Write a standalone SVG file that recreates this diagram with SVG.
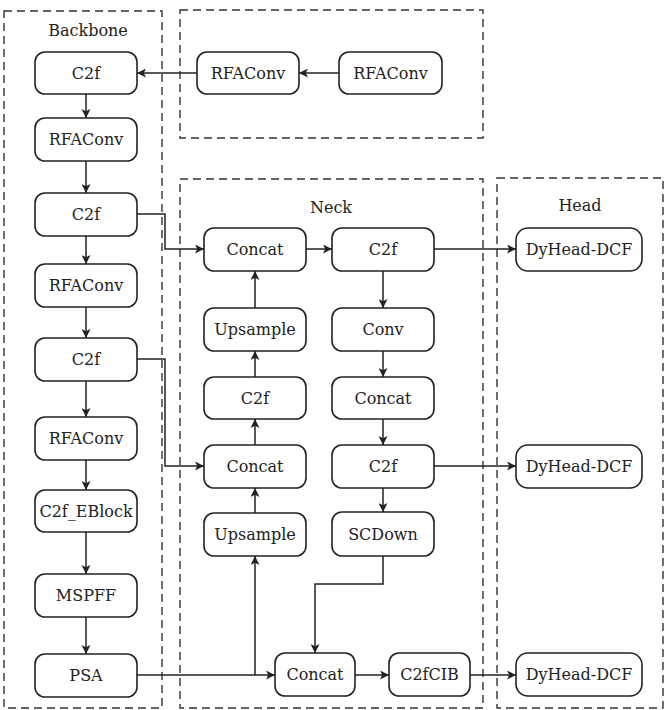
<svg xmlns="http://www.w3.org/2000/svg" width="665" height="710" viewBox="0 0 665 710">
<style>
.grp{fill:none;stroke:#333;stroke-width:1.4;stroke-dasharray:8 5}
.nd rect{fill:#fff;stroke:#222;stroke-width:1.6}
text{font-family:"DejaVu Serif",serif;font-size:16px;fill:#222;text-anchor:middle;dominant-baseline:central}
.cn path{fill:none;stroke:#222;stroke-width:1.5}
</style>
<defs>
<marker id="ar" viewBox="0 0 10 10" refX="10" refY="5" markerWidth="9" markerHeight="9" markerUnits="userSpaceOnUse" orient="auto">
<path d="M0,0 L10,5 L0,10 L2.5,5 Z" fill="#222"/>
</marker>
</defs>
<rect width="665" height="710" fill="#fff"/>
<g id="groups">
<rect class="grp" x="4" y="11" width="158" height="697"/>
<rect class="grp" x="180" y="10" width="303" height="128"/>
<rect class="grp" x="180" y="179" width="303" height="529"/>
<rect class="grp" x="497" y="178" width="166" height="530"/>
<text x="88" y="30">Backbone</text>
<text x="331" y="207">Neck</text>
<text x="580" y="205">Head</text>
</g>
<g class="cn" id="connectors">
<path d="M339,73 H299" marker-end="url(#ar)"/>
<path d="M197,73 H137" marker-end="url(#ar)"/>
<path d="M86,94 V118" marker-end="url(#ar)"/>
<path d="M86,161 V193" marker-end="url(#ar)"/>
<path d="M86,236 V264" marker-end="url(#ar)"/>
<path d="M86,307 V338" marker-end="url(#ar)"/>
<path d="M86,381 V417" marker-end="url(#ar)"/>
<path d="M86,460 V490" marker-end="url(#ar)"/>
<path d="M86,532 V574" marker-end="url(#ar)"/>
<path d="M86,617 V654" marker-end="url(#ar)"/>
<path d="M137,214 H165 V249 H204" marker-end="url(#ar)"/>
<path d="M137,359 H165 V466 H204" marker-end="url(#ar)"/>
<path d="M137,675 H275" marker-end="url(#ar)"/>
<path d="M255,675 V556" marker-end="url(#ar)"/>
<path d="M255,513 V488" marker-end="url(#ar)"/>
<path d="M255,445 V419" marker-end="url(#ar)"/>
<path d="M255,377 V351" marker-end="url(#ar)"/>
<path d="M255,308 V271" marker-end="url(#ar)"/>
<path d="M306,249 H332" marker-end="url(#ar)"/>
<path d="M383,271 V308" marker-end="url(#ar)"/>
<path d="M383,351 V377" marker-end="url(#ar)"/>
<path d="M383,419 V445" marker-end="url(#ar)"/>
<path d="M383,488 V512" marker-end="url(#ar)"/>
<path d="M383,556 V584 H315 V653" marker-end="url(#ar)"/>
<path d="M355,675 H389" marker-end="url(#ar)"/>
<path d="M434,249 H516" marker-end="url(#ar)"/>
<path d="M434,466 H516" marker-end="url(#ar)"/>
<path d="M470,675 H516" marker-end="url(#ar)"/>
</g>
<g class="nd" id="rfa_top2"><rect x="339" y="52" width="103" height="42" rx="10"/><text x="390.5" y="73">RFAConv</text></g>
<g class="nd" id="rfa_top1"><rect x="197" y="52" width="102" height="42" rx="10"/><text x="248" y="73">RFAConv</text></g>
<g class="nd" id="bb_c2f1"><rect x="35" y="52" width="102" height="42" rx="10"/><text x="86" y="73">C2f</text></g>
<g class="nd" id="bb_rfa1"><rect x="35" y="118" width="102" height="43" rx="10"/><text x="86" y="139.5">RFAConv</text></g>
<g class="nd" id="bb_c2f2"><rect x="35" y="193" width="102" height="43" rx="10"/><text x="86" y="214.5">C2f</text></g>
<g class="nd" id="bb_rfa2"><rect x="35" y="264" width="102" height="43" rx="10"/><text x="86" y="285.5">RFAConv</text></g>
<g class="nd" id="bb_c2f3"><rect x="35" y="338" width="102" height="43" rx="10"/><text x="86" y="359.5">C2f</text></g>
<g class="nd" id="bb_rfa3"><rect x="35" y="417" width="102" height="43" rx="10"/><text x="86" y="438.5">RFAConv</text></g>
<g class="nd" id="bb_eblock"><rect x="35" y="490" width="102" height="42" rx="10"/><text x="86" y="511">C2f_EBlock</text></g>
<g class="nd" id="bb_mspff"><rect x="35" y="574" width="102" height="43" rx="10"/><text x="86" y="595.5">MSPFF</text></g>
<g class="nd" id="bb_psa"><rect x="35" y="654" width="102" height="43" rx="10"/><text x="86" y="675.5">PSA</text></g>
<g class="nd" id="nk_concat1"><rect x="204" y="228" width="102" height="43" rx="10"/><text x="255" y="249.5">Concat</text></g>
<g class="nd" id="nk_up1"><rect x="204" y="308" width="102" height="43" rx="10"/><text x="255" y="329.5">Upsample</text></g>
<g class="nd" id="nk_c2fa"><rect x="204" y="377" width="102" height="42" rx="10"/><text x="255" y="398">C2f</text></g>
<g class="nd" id="nk_concat2"><rect x="204" y="445" width="102" height="43" rx="10"/><text x="255" y="466.5">Concat</text></g>
<g class="nd" id="nk_up2"><rect x="204" y="513" width="102" height="43" rx="10"/><text x="255" y="534.5">Upsample</text></g>
<g class="nd" id="nk_c2f1"><rect x="332" y="228" width="102" height="43" rx="10"/><text x="383" y="249.5">C2f</text></g>
<g class="nd" id="nk_conv"><rect x="332" y="308" width="102" height="43" rx="10"/><text x="383" y="329.5">Conv</text></g>
<g class="nd" id="nk_concat3"><rect x="332" y="377" width="102" height="42" rx="10"/><text x="383" y="398">Concat</text></g>
<g class="nd" id="nk_c2f2"><rect x="332" y="445" width="102" height="43" rx="10"/><text x="383" y="466.5">C2f</text></g>
<g class="nd" id="nk_scdown"><rect x="332" y="512" width="102" height="44" rx="10"/><text x="383" y="534">SCDown</text></g>
<g class="nd" id="nk_concat4"><rect x="275" y="653" width="80" height="43" rx="10"/><text x="315" y="674.5">Concat</text></g>
<g class="nd" id="nk_c2fcib"><rect x="389" y="653" width="81" height="43" rx="10"/><text x="429.5" y="674.5">C2fCIB</text></g>
<g class="nd" id="hd_1"><rect x="516" y="228" width="126" height="43" rx="12"/><text x="579" y="249.5">DyHead-DCF</text></g>
<g class="nd" id="hd_2"><rect x="516" y="445" width="126" height="43" rx="12"/><text x="579" y="466.5">DyHead-DCF</text></g>
<g class="nd" id="hd_3"><rect x="516" y="653" width="126" height="43" rx="12"/><text x="579" y="674.5">DyHead-DCF</text></g>
</svg>
